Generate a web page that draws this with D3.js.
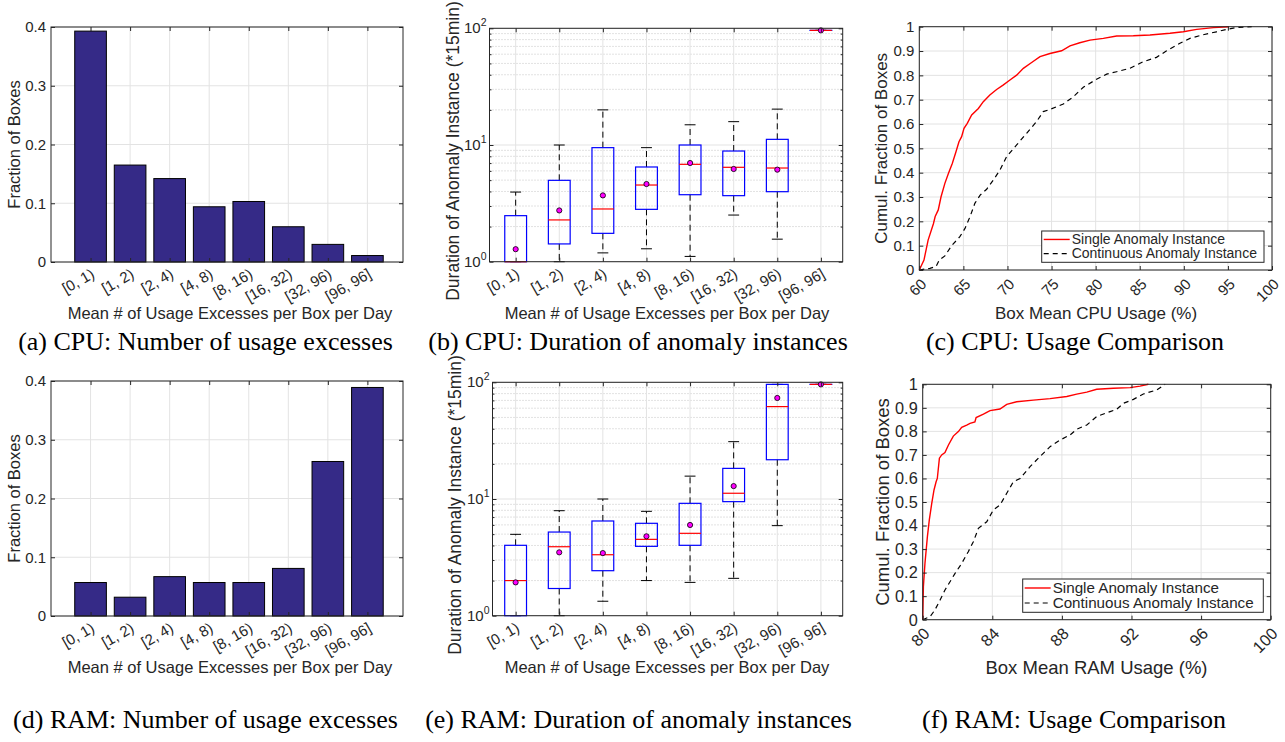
<!DOCTYPE html>
<html><head><meta charset="utf-8">
<script src="https://cdn.jsdelivr.net/npm/d3@7"></script>
<style>
body{margin:0;background:#fff;}
svg{display:block;}
text{font-family:"Liberation Sans",Arial,Helvetica,sans-serif;fill:#262626;}
text.cap{font-family:"Liberation Serif","Times New Roman",serif;fill:#000;}
</style></head><body>
<svg id="chart" width="1285" height="742"></svg>
<script>
// ---------------- DATA ----------------
const categories = ["[0, 1)", "[1, 2)", "[2, 4)", "[4, 8)", "[8, 16)", "[16, 32)", "[32, 96)", "[96, 96]"];
const cpuFraction = [0.393, 0.165, 0.142, 0.094, 0.103, 0.060, 0.030, 0.011];
const ramFraction = [0.057, 0.032, 0.067, 0.057, 0.057, 0.081, 0.263, 0.389];
const barTicks = [0, 0.1, 0.2, 0.3, 0.4];
const barTickLabels = ["0", "0.1", "0.2", "0.3", "0.4"];

const cpuLow  = [1, 1, 1.19, 1.29, 1.11, 2.51, 1.56, 96];
const cpuQ1   = [1, 1.42, 1.75, 2.81, 3.75, 3.68, 3.98, 96];
const cpuMed  = [1, 2.28, 2.83, 4.54, 6.83, 6.44, 6.35, 96];
const cpuQ3   = [2.48, 4.98, 9.49, 6.48, 10, 8.88, 11.18, 96];
const cpuHigh = [3.95, 10, 20, 9.49, 14.9, 15.85, 20.3, 96];
const cpuMean = [1.28, 2.75, 3.70, 4.63, 7.01, 6.23, 6.15, 96];

const ramLow  = [1, 1, 1.33, 2.0, 1.93, 2.09, 5.91, 96];
const ramQ1   = [1, 1.71, 2.43, 3.93, 4.01, 9.49, 21.7, 96];
const ramMed  = [2.0, 3.90, 3.33, 4.51, 5.08, 11.2, 61.9, 96];
const ramQ3   = [4.01, 5.21, 6.48, 6.19, 9.18, 18.3, 96, 96];
const ramHigh = [4.98, 7.94, 10, 7.84, 15.7, 31.0, 96, 96];
const ramMean = [1.93, 3.49, 3.44, 4.79, 5.99, 12.9, 73.4, 96];

const logTicks = [1, 10, 100];
const logTickExp = ["0", "1", "2"];
const logMinor = [2, 3, 4, 5, 6, 7, 8, 9, 20, 30, 40, 50, 60, 70, 80, 90];

const cpuSingleX = [60, 60.53, 61.0, 61.6, 61.8, 62.15, 62.46, 62.9, 63.3, 63.74, 64.16, 64.5, 64.8, 65.07, 65.44, 65.94, 66.7, 67.26, 68.0, 68.77, 69.5, 70.28, 71.04, 71.8, 72.74, 73.69, 74.82, 76.14, 77.09, 78.2, 79.36, 80.87, 82.38, 84.27, 86.16, 88.43, 89.94, 91.46, 93.35, 95.12];
const cpuSingleY = [0, 0.041, 0.123, 0.19, 0.22, 0.247, 0.30, 0.356, 0.397, 0.438, 0.486, 0.527, 0.548, 0.582, 0.603, 0.637, 0.664, 0.692, 0.719, 0.742, 0.76, 0.781, 0.801, 0.829, 0.853, 0.877, 0.89, 0.901, 0.921, 0.934, 0.945, 0.952, 0.962, 0.963, 0.966, 0.973, 0.979, 0.989, 0.996, 1.0];
const cpuContX = [60, 61.2, 61.9, 62.27, 62.9, 63.67, 64.6, 65.18, 65.75, 66.3, 66.9, 67.64, 68.4, 69.15, 69.9, 71.04, 72.17, 73.3, 74.06, 74.82, 76.33, 77.47, 78.6, 80.1, 81.25, 82.38, 83.9, 85.4, 86.9, 88.05, 89.56, 90.7, 92.2, 93.7, 94.86, 95.99, 97.7];
const cpuContY = [0, 0.007, 0.014, 0.041, 0.058, 0.1, 0.137, 0.171, 0.219, 0.274, 0.308, 0.332, 0.37, 0.411, 0.466, 0.514, 0.562, 0.61, 0.651, 0.66, 0.682, 0.712, 0.751, 0.784, 0.805, 0.815, 0.829, 0.856, 0.874, 0.901, 0.932, 0.952, 0.967, 0.979, 0.989, 0.997, 1.0];

const ramSingleX = [80, 80.04, 80.13, 80.27, 80.38, 80.52, 80.65, 80.77, 80.84, 80.96, 81.09, 81.28, 81.48, 81.76, 82.05, 82.24, 82.53, 82.72, 83.0, 83.07, 83.49, 83.87, 84.44, 84.83, 85.4, 86.36, 87.32, 88.28, 88.85, 89.43, 90.0, 90.96, 91.92, 92.49, 92.97];
const ramSingleY = [0, 0.14, 0.24, 0.353, 0.424, 0.494, 0.551, 0.586, 0.6, 0.686, 0.7, 0.71, 0.742, 0.78, 0.799, 0.817, 0.827, 0.834, 0.84, 0.859, 0.873, 0.888, 0.895, 0.915, 0.926, 0.933, 0.939, 0.948, 0.958, 0.967, 0.979, 0.983, 0.986, 0.992, 1.0];
const ramContX = [80, 80.42, 80.7, 81.0, 81.28, 81.57, 81.86, 82.24, 82.62, 82.91, 83.2, 83.68, 84.06, 84.44, 84.83, 85.21, 85.6, 86.17, 86.74, 87.32, 87.89, 88.47, 88.85, 89.43, 90.0, 90.77, 91.15, 91.53, 92.11, 92.68, 93.45, 93.93];
const ramContY = [0, 0.013, 0.041, 0.084, 0.126, 0.161, 0.197, 0.239, 0.289, 0.331, 0.388, 0.416, 0.466, 0.487, 0.537, 0.586, 0.6, 0.65, 0.693, 0.735, 0.763, 0.785, 0.809, 0.827, 0.863, 0.884, 0.894, 0.919, 0.936, 0.959, 0.976, 1.0];

const cpuUsageTicks = [60, 65, 70, 75, 80, 85, 90, 95, 100];
const ramUsageTicks = [80, 84, 88, 92, 96, 100];
const cdfTicks = [0, 0.1, 0.2, 0.3, 0.4, 0.5, 0.6, 0.7, 0.8, 0.9, 1];
const cdfTickLabels = ["0", "0.1", "0.2", "0.3", "0.4", "0.5", "0.6", "0.7", "0.8", "0.9", "1"];
const legendLabels = ["Single Anomaly Instance", "Continuous Anomaly Instance"];

const xLabelCount = "Mean # of Usage Excesses per Box per Day";
const captions = ["(a) CPU: Number of usage excesses", "(b) CPU: Duration of anomaly instances", "(c) CPU: Usage Comparison",
                  "(d) RAM: Number of usage excesses", "(e) RAM: Duration of anomaly instances", "(f) RAM: Usage Comparison"];

// ---------------- DRAWING ----------------
const svg = d3.select("#chart");
const AX = "#262626", GRID = "#e3e3e3", MINOR = "#c4c4c4";
const TFS = 15, LFS = 16.5, TL = 4;

function tickMarks(g, scale, orient, pos, values, len) {
  const mk = {left: d3.axisLeft, right: d3.axisRight, top: d3.axisTop, bottom: d3.axisBottom}[orient];
  const ax = mk(scale).tickValues(values).tickFormat("").tickSizeInner(-len).tickSizeOuter(0);
  const tr = (orient === "left" || orient === "right") ? `translate(${pos},0)` : `translate(0,${pos})`;
  const gg = g.append("g").attr("transform", tr).call(ax);
  gg.select(".domain").remove();
  gg.selectAll("text").remove();
  gg.selectAll("line").attr("stroke", AX).attr("stroke-width", 1);
}
function frame(g, L) {
  g.append("rect").attr("x", L.x0).attr("y", L.y0).attr("width", L.x1 - L.x0).attr("height", L.y1 - L.y0)
    .attr("fill", "none").attr("stroke", AX).attr("stroke-width", 1);
}
function yLabel(g, txt, x, yc, fs) {
  g.append("text").attr("transform", `translate(${x},${yc}) rotate(-90)`).attr("text-anchor", "middle")
    .attr("font-size", fs || LFS).text(txt);
}
function xLabel(g, txt, xc, y, fs) {
  g.append("text").attr("x", xc).attr("y", y).attr("text-anchor", "middle").attr("font-size", fs || LFS).text(txt);
}
function linYLabels(g, y, vals, labs, x0, fs) {
  g.selectAll(null).data(vals).join("text").attr("x", x0 - 5).attr("y", d => y(d)).attr("dy", "0.36em")
    .attr("text-anchor", "end").attr("font-size", fs || TFS).text((d, i) => labs[i]);
}
function catXLabels(g, x, y1) {
  g.selectAll(null).data(categories).join("text")
    .attr("transform", (d, i) => `translate(${x(i + 1) + 5},${y1 + 15}) rotate(-30)`)
    .attr("text-anchor", "end").attr("font-size", TFS).text(d => d);
}

// ---- bar panel ----
function barPanel(vals, L, ylab) {
  const g = svg.append("g");
  const x = d3.scaleLinear().domain([0, 8.9]).range([L.x0, L.x1]);
  const y = d3.scaleLinear().domain([0, 0.4]).range([L.y1, L.y0]);
  const idx = d3.range(1, 9);
  g.selectAll(null).data(idx).join("line").attr("x1", d => x(d)).attr("x2", d => x(d))
    .attr("y1", L.y0).attr("y2", L.y1).attr("stroke", GRID);
  g.selectAll(null).data(barTicks).join("line").attr("x1", L.x0).attr("x2", L.x1)
    .attr("y1", d => y(d)).attr("y2", d => y(d)).attr("stroke", GRID);
  g.selectAll(null).data(vals).join("rect")
    .attr("x", (d, i) => x(i + 1 - 0.4)).attr("width", x(0.8) - x(0))
    .attr("y", d => y(d)).attr("height", d => y(0) - y(d))
    .attr("fill", "#352a87").attr("stroke", "#000").attr("stroke-width", 1);
  tickMarks(g, y, "left", L.x0, barTicks, TL);
  tickMarks(g, y, "right", L.x1, barTicks, TL);
  tickMarks(g, x, "bottom", L.y1, idx, TL);
  tickMarks(g, x, "top", L.y0, idx, TL);
  frame(g, L);
  linYLabels(g, y, barTicks, barTickLabels, L.x0);
  catXLabels(g, x, L.y1);
  yLabel(g, ylab, L.ylx, (L.y0 + L.y1) / 2);
  xLabel(g, xLabelCount, L.xlx, L.xly);
}

// ---- box panel ----
function boxPanel(S, L) {
  const g = svg.append("g");
  const x = d3.scaleLinear().domain(L.dom).range([L.x0, L.x1]);
  const y = d3.scaleLog().domain([1, 100]).range([L.y1, L.y0]);
  const idx = d3.range(1, 9);
  g.selectAll(null).data(logMinor).join("line").attr("x1", L.x0).attr("x2", L.x1)
    .attr("y1", d => y(d)).attr("y2", d => y(d)).attr("stroke", MINOR).attr("stroke-dasharray", "1,2");
  g.selectAll(null).data(idx).join("line").attr("x1", d => x(d)).attr("x2", d => x(d))
    .attr("y1", L.y0).attr("y2", L.y1).attr("stroke", GRID);
  g.selectAll(null).data(logTicks).join("line").attr("x1", L.x0).attr("x2", L.x1)
    .attr("y1", d => y(d)).attr("y2", d => y(d)).attr("stroke", GRID);
  const hw = 0.25, cw = 0.125;
  idx.forEach((c, i) => {
    const cx = x(c);
    g.append("line").attr("x1", cx).attr("x2", cx).attr("y1", y(S.q3[i])).attr("y2", y(S.high[i]))
      .attr("stroke", "#000").attr("stroke-width", 1).attr("stroke-dasharray", "6,4");
    g.append("line").attr("x1", cx).attr("x2", cx).attr("y1", y(S.q1[i])).attr("y2", y(S.low[i]))
      .attr("stroke", "#000").attr("stroke-width", 1).attr("stroke-dasharray", "6,4");
    [S.high[i], S.low[i]].forEach(v => {
      g.append("line").attr("x1", x(c - cw)).attr("x2", x(c + cw)).attr("y1", y(v)).attr("y2", y(v))
        .attr("stroke", "#000").attr("stroke-width", 1);
    });
    g.append("rect").attr("x", x(c - hw)).attr("width", x(c + hw) - x(c - hw))
      .attr("y", y(S.q3[i])).attr("height", Math.max(0.01, y(S.q1[i]) - y(S.q3[i])))
      .attr("fill", "none").attr("stroke", "#0000ff").attr("stroke-width", 1.2);
    g.append("line").attr("x1", x(c - hw)).attr("x2", x(c + hw)).attr("y1", y(S.med[i])).attr("y2", y(S.med[i]))
      .attr("stroke", "#ff0000").attr("stroke-width", 1.2);
    g.append("circle").attr("cx", cx).attr("cy", y(S.mean[i])).attr("r", 2.6)
      .attr("fill", "#ff00ff").attr("stroke", "#000").attr("stroke-width", 0.8);
  });
  tickMarks(g, y, "left", L.x0, logTicks, TL);
  tickMarks(g, y, "right", L.x1, logTicks, TL);
  tickMarks(g, y, "left", L.x0, logMinor, 2);
  tickMarks(g, y, "right", L.x1, logMinor, 2);
  tickMarks(g, x, "bottom", L.y1, idx, TL);
  tickMarks(g, x, "top", L.y0, idx, TL);
  frame(g, L);
  const lt = g.selectAll(null).data(logTicks).join("text").attr("x", L.x0 - 3).attr("y", d => y(d) + 5)
    .attr("text-anchor", "end").attr("font-size", TFS);
  lt.append("tspan").text("10");
  lt.append("tspan").attr("dy", -7).attr("font-size", 10.5).text((d, i) => logTickExp[i]);
  catXLabels(g, x, L.y1);
  yLabel(g, "Duration of Anomaly Instance (*15min)", L.ylx, L.yly, 17.5);
  xLabel(g, xLabelCount, L.xlx, L.xly);
}

// ---- cdf panel ----
function cdfPanel(D, L) {
  const g = svg.append("g");
  const x = d3.scaleLinear().domain([D.ticks[0], D.ticks[D.ticks.length - 1]]).range([L.x0, L.x1]);
  const y = d3.scaleLinear().domain([0, 1]).range([L.y1, L.y0]);
  g.selectAll(null).data(D.ticks).join("line").attr("x1", d => x(d)).attr("x2", d => x(d))
    .attr("y1", L.y0).attr("y2", L.y1).attr("stroke", GRID);
  g.selectAll(null).data(cdfTicks).join("line").attr("x1", L.x0).attr("x2", L.x1)
    .attr("y1", d => y(d)).attr("y2", d => y(d)).attr("stroke", GRID);
  const line = d3.line().x(d => x(d[0])).y(d => y(d[1]));
  g.append("path").attr("d", line(d3.zip(D.cx, D.cy))).attr("fill", "none")
    .attr("stroke", "#000").attr("stroke-width", 1.2).attr("stroke-dasharray", "5,4");
  g.append("path").attr("d", line(d3.zip(D.sx, D.sy))).attr("fill", "none")
    .attr("stroke", "#ff0000").attr("stroke-width", 1.4);
  tickMarks(g, y, "left", L.x0, cdfTicks, TL);
  tickMarks(g, y, "right", L.x1, cdfTicks, TL);
  tickMarks(g, x, "bottom", L.y1, D.ticks, TL);
  tickMarks(g, x, "top", L.y0, D.ticks, TL);
  frame(g, L);
  linYLabels(g, y, cdfTicks, cdfTickLabels, L.x0, L.tfs);
  g.selectAll(null).data(D.ticks).join("text")
    .attr("transform", d => `translate(${x(d) + 8},${L.y1 + 15}) rotate(-45)`)
    .attr("text-anchor", "end").attr("font-size", L.tfs).text(d => d);
  // legend
  const Lg = L.leg;
  g.append("rect").attr("x", Lg.x0).attr("y", Lg.y0).attr("width", Lg.x1 - Lg.x0).attr("height", Lg.y1 - Lg.y0)
    .attr("fill", "#fff").attr("stroke", AX).attr("stroke-width", 1);
  const rows = [Lg.y0 + (Lg.y1 - Lg.y0) * 0.27, Lg.y0 + (Lg.y1 - Lg.y0) * 0.72];
  g.append("line").attr("x1", Lg.x0 + 2).attr("x2", Lg.x0 + 28).attr("y1", rows[0]).attr("y2", rows[0])
    .attr("stroke", "#ff0000").attr("stroke-width", 1.4);
  g.append("line").attr("x1", Lg.x0 + 2).attr("x2", Lg.x0 + 28).attr("y1", rows[1]).attr("y2", rows[1])
    .attr("stroke", "#000").attr("stroke-width", 1.2).attr("stroke-dasharray", "5,4");
  g.selectAll(null).data(legendLabels).join("text").attr("x", Lg.x0 + 30).attr("y", (d, i) => rows[i])
    .attr("dy", "0.34em").attr("font-size", Lg.fs).text(d => d);
  yLabel(g, "Cumul. Fraction of Boxes", L.ylx, (L.y0 + L.y1) / 2, L.lfs);
  xLabel(g, D.xlab, L.xlx, L.xly, L.lfs);
}

barPanel(cpuFraction, {x0: 51, x1: 403, y0: 27, y1: 262, ylx: 20, xlx: 230, xly: 319}, "Fraction of Boxes");
barPanel(ramFraction, {x0: 51, x1: 403, y0: 381, y1: 616, ylx: 20, xlx: 230, xly: 673}, "Fraction of Boxes");

boxPanel({low: cpuLow, q1: cpuQ1, med: cpuMed, q3: cpuQ3, high: cpuHigh, mean: cpuMean},
  {x0: 489.5, x1: 842.7, y0: 28.3, y1: 261.7, dom: [0.4, 8.5], ylx: 458.5, yly: 151, xlx: 667, xly: 319});
boxPanel({low: ramLow, q1: ramQ1, med: ramMed, q3: ramQ3, high: ramHigh, mean: ramMean},
  {x0: 492.5, x1: 842.7, y0: 382.3, y1: 615.7, dom: [0.47, 8.5], ylx: 461, yly: 505, xlx: 667, xly: 673});

cdfPanel({sx: cpuSingleX, sy: cpuSingleY, cx: cpuContX, cy: cpuContY, ticks: cpuUsageTicks, xlab: "Box Mean CPU Usage (%)"},
  {x0: 919.3, x1: 1272, y0: 26.7, y1: 270, ylx: 887, xlx: 1096, xly: 319, tfs: 15, lfs: 17,
   leg: {x0: 1041.7, x1: 1264, y0: 231, y1: 262.3, fs: 14}});
cdfPanel({sx: ramSingleX, sy: ramSingleY, cx: ramContX, cy: ramContY, ticks: ramUsageTicks, xlab: "Box Mean RAM Usage (%)"},
  {x0: 922.7, x1: 1270.7, y0: 384.3, y1: 619.7, ylx: 889, xlx: 1096.5, xly: 673.5, tfs: 16.3, lfs: 18.5,
   leg: {x0: 1022.7, x1: 1263.3, y0: 579, y1: 612.3, fs: 15.2}});

// captions (Times-like, centred under each subfigure)
const capPos = [[205.5, 349.5], [638, 349.5], [1075, 349.5], [205.5, 727.5], [638.5, 727.5], [1074, 727.5]];
captions.forEach((s, i) => {
  svg.append("text").attr("class", "cap").attr("x", capPos[i][0]).attr("y", capPos[i][1])
    .attr("text-anchor", "middle").attr("font-size", 26).text(s);
});
</script>
</body></html>
